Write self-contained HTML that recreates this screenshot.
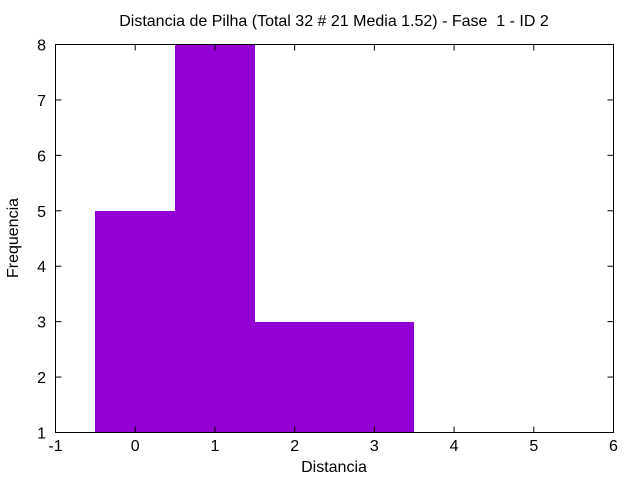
<!DOCTYPE html>
<html><head><meta charset="utf-8"><style>
body{margin:0;background:#fff}
svg text{font-family:"Liberation Sans",sans-serif;font-size:16px;fill:#000}
</style></head><body>
<svg id="chart" width="640" height="480" xmlns="http://www.w3.org/2000/svg">
<text x="334" y="26" text-anchor="middle">Distancia de Pilha (Total 32 # 21 Media 1.52) - Fase &#160;1 - ID 2</text>
<g id="bars" shape-rendering="crispEdges"></g>
<g id="axes"></g>
<rect x="55.5" y="44.5" width="558" height="388" fill="none" stroke="#000" stroke-width="1"/>
<text x="334" y="472" text-anchor="middle">Distancia</text>
<text transform="translate(18,238) rotate(-90)" text-anchor="middle">Frequencia</text>
</svg>
<script>
const categories=[0,1,2,3];
const counts=[5,8,3,3];
const xTicks=[-1,0,1,2,3,4,5,6];
const yTicks=[1,2,3,4,5,6,7,8];
const X0=55.5,X1=613.5,Y0=432.5,Y1=44.5;
const xs=v=>X0+(v-(-1))/(6-(-1))*(X1-X0);
const ys=v=>Y0-(v-1)/(8-1)*(Y0-Y1);
const NS="http://www.w3.org/2000/svg";
const bars=document.getElementById('bars'),axes=document.getElementById('axes');
categories.forEach((c,i)=>{
 const r=document.createElementNS(NS,'rect');
 
 
 const l=Math.round(xs(c-0.5)),rr=Math.round(xs(c+0.5)),t=Math.round(ys(counts[i]));
 r.setAttribute('x',l);r.setAttribute('y',t);r.setAttribute('width',rr-l);r.setAttribute('height',432-t);
 r.setAttribute('fill','#9400d3');bars.appendChild(r);
});
function line(x1,y1,x2,y2){const l=document.createElementNS(NS,'line');l.setAttribute('x1',x1);l.setAttribute('y1',y1);l.setAttribute('x2',x2);l.setAttribute('y2',y2);l.setAttribute('stroke','#000');axes.appendChild(l);}
xTicks.forEach(v=>{
 const x=xs(v);line(x,Y0,x,Y0-6);line(x,Y1,x,Y1+6);
 const t=document.createElementNS(NS,'text');
 
 
 t.setAttribute('x',x);t.setAttribute('y',451);t.setAttribute('text-anchor','middle');t.textContent=v;axes.appendChild(t);
});
yTicks.forEach(v=>{
 const y=ys(v);line(X0,y,X0+6,y);line(X1,y,X1-6,y);
 const t=document.createElementNS(NS,'text');
 
 
 t.setAttribute('x',46);t.setAttribute('y',y+6);t.setAttribute('text-anchor','end');t.textContent=v;axes.appendChild(t);
});
</script>
</body></html>
